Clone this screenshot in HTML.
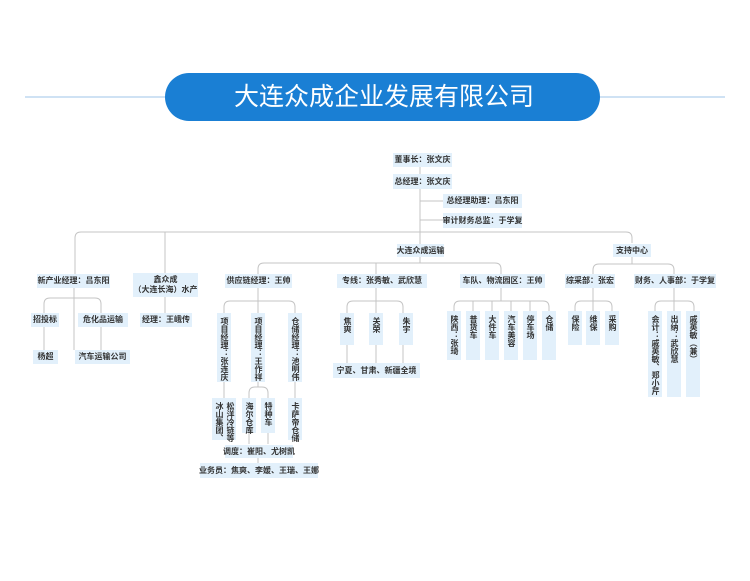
<!DOCTYPE html>
<html><head><meta charset="utf-8"><style>
html,body{margin:0;padding:0;background:#fff;}
#c{position:relative;width:750px;height:581px;overflow:hidden;font-family:"Liberation Sans","Noto Sans CJK SC",sans-serif;}
.b{position:absolute;background:#e2f0fb;color:#333;font-size:8px;font-weight:bold;display:flex;align-items:center;justify-content:center;text-align:center;line-height:10px;white-space:nowrap;}
.v{writing-mode:vertical-rl;align-items:flex-start;justify-content:flex-start;padding-top:4px;box-sizing:border-box;line-height:14px;}
svg{position:absolute;left:0;top:0;}
</style></head><body><div id="c">
<svg width="750" height="581">
<line x1="25" y1="97" x2="725" y2="97" stroke="#9fc4e8" stroke-width="1"/>
<rect x="165" y="73" width="435" height="48" rx="24" fill="#1a7fd4"/>
<g fill="none" stroke="#c4c4c4" stroke-width="1">
<path d="M420 167V250M420 201H443M420 220H443"/>
<path d="M75 274V238Q75 232 81 232H626Q632 232 632 238V243M165 232V273M420 257V263"/>
<path d="M258 274V269Q258 263 264 263H495Q501 263 501 269V274M376 263V274"/>
<path d="M593 274V270Q593 264 599 264H668Q674 264 674 270V274M632 257V264"/>
<path d="M74 288V350M44 313V304Q44 298 50 298H95Q101 298 101 304V313M44 327V350M101 327V350M165 297V313"/>
<path d="M224 313V307Q224 301 230 301H289Q295 301 295 307V313M258 288V313"/>
<path d="M224 382V398M295 382V398M258 382V387M249 398V393Q249 387 255 387H262Q268 387 268 393V398M249 433V444M268 433V444M258 458V463"/>
<path d="M347 313V307Q347 301 353 301H397Q403 301 403 307V313M376 288V313M347 345V363M376 345V363M403 345V363"/>
<path d="M454 311V307Q454 301 460 301H543Q549 301 549 307V311M473 301V311M492 301V311M511 301V311M530 301V311M501 288V301"/>
<path d="M575 313V307Q575 301 581 301H606Q612 301 612 307V313M593 288V313"/>
<path d="M655 313V307Q655 301 661 301H688Q694 301 694 307V313M674 288V313"/>
</g>
<text x="384" y="105" fill="#fff" font-size="25" text-anchor="middle" font-family="Liberation Sans,Noto Sans CJK SC,sans-serif">大连众成企业发展有限公司</text>
</svg>
<div class="b" style="left:393px;top:153px;width:59px;height:14px">董事长：张文庆</div>
<div class="b" style="left:393px;top:174px;width:59px;height:15px">总经理：张文庆</div>
<div class="b" style="left:443px;top:194px;width:79px;height:14px">总经理助理：吕东阳</div>
<div class="b" style="left:443px;top:213px;width:79px;height:15px">审计财务总监：于学复</div>
<div class="b" style="left:397px;top:244px;width:47px;height:13px">大连众成运输</div>
<div class="b" style="left:613px;top:244px;width:38px;height:13px">支持中心</div>
<div class="b" style="left:37px;top:274px;width:73px;height:14px">新产业经理：吕东阳</div>
<div class="b" style="left:133px;top:273px;width:65px;height:24px">鑫众成<br>（大连长海）水产</div>
<div class="b" style="left:225px;top:274px;width:67px;height:14px">供应链经理：王帅</div>
<div class="b" style="left:337px;top:274px;width:90px;height:14px">专线：张秀敏、武欣慧</div>
<div class="b" style="left:460px;top:274px;width:85px;height:14px">车队、物流园区：王帅</div>
<div class="b" style="left:565px;top:274px;width:50px;height:14px">综采部：张宏</div>
<div class="b" style="left:634px;top:274px;width:82px;height:14px">财务、人事部：于学复</div>
<div class="b" style="left:31px;top:313px;width:28px;height:14px">招投标</div>
<div class="b" style="left:78px;top:313px;width:50px;height:14px">危化品运输</div>
<div class="b" style="left:140px;top:313px;width:52px;height:14px">经理：王峨传</div>
<div class="b" style="left:33px;top:350px;width:25px;height:14px">杨超</div>
<div class="b" style="left:75px;top:350px;width:55px;height:14px">汽车运输公司</div>
<div class="b v" style="left:217px;top:313px;width:14px;height:69px">项目经理：张连庆</div>
<div class="b v" style="left:251px;top:313px;width:14px;height:69px">项目经理：王作祥</div>
<div class="b v" style="left:288px;top:313px;width:14px;height:69px">仓储经理：池明伟</div>
<div class="b v" style="left:212px;top:398px;width:24px;height:42px;line-height:11px;padding-left:1px">松洋冷链等<br>冰山集团、</div>
<div class="b v" style="left:242px;top:398px;width:14px;height:35px">海尔仓库</div>
<div class="b v" style="left:261px;top:398px;width:14px;height:35px">特种车</div>
<div class="b v" style="left:288px;top:398px;width:14px;height:42px">卡萨帝仓储</div>
<div class="b" style="left:225px;top:445px;width:68px;height:13px">调度：崔阳、尤树凯</div>
<div class="b" style="left:200px;top:463px;width:118px;height:15px">业务员：焦爽、李媛、王瑞、王娜</div>
<div class="b v" style="left:340px;top:313px;width:14px;height:32px">焦爽</div>
<div class="b v" style="left:369px;top:313px;width:14px;height:32px">关荣</div>
<div class="b v" style="left:399px;top:313px;width:14px;height:32px">朱宇</div>
<div class="b" style="left:333px;top:363px;width:87px;height:15px">宁夏、甘肃、新疆全境</div>
<div class="b v" style="left:447px;top:311px;width:14px;height:49px">陕西：张琦</div>
<div class="b v" style="left:466px;top:311px;width:14px;height:49px">普货车</div>
<div class="b v" style="left:485px;top:311px;width:14px;height:49px">大件车</div>
<div class="b v" style="left:504px;top:311px;width:14px;height:49px">汽车美容</div>
<div class="b v" style="left:523px;top:311px;width:14px;height:49px">停车场</div>
<div class="b v" style="left:542px;top:311px;width:14px;height:49px">仓储</div>
<div class="b v" style="left:568px;top:311px;width:14px;height:34px">保险</div>
<div class="b v" style="left:586px;top:311px;width:14px;height:34px">维保</div>
<div class="b v" style="left:605px;top:311px;width:14px;height:34px">采购</div>
<div class="b v" style="left:648px;top:311px;width:14px;height:86px">会计：戚英敏、郑小芹</div>
<div class="b v" style="left:667px;top:311px;width:14px;height:86px">出纳：武欣慧</div>
<div class="b v" style="left:686px;top:311px;width:14px;height:86px">戚英敏（兼）</div>
</div></body></html>
